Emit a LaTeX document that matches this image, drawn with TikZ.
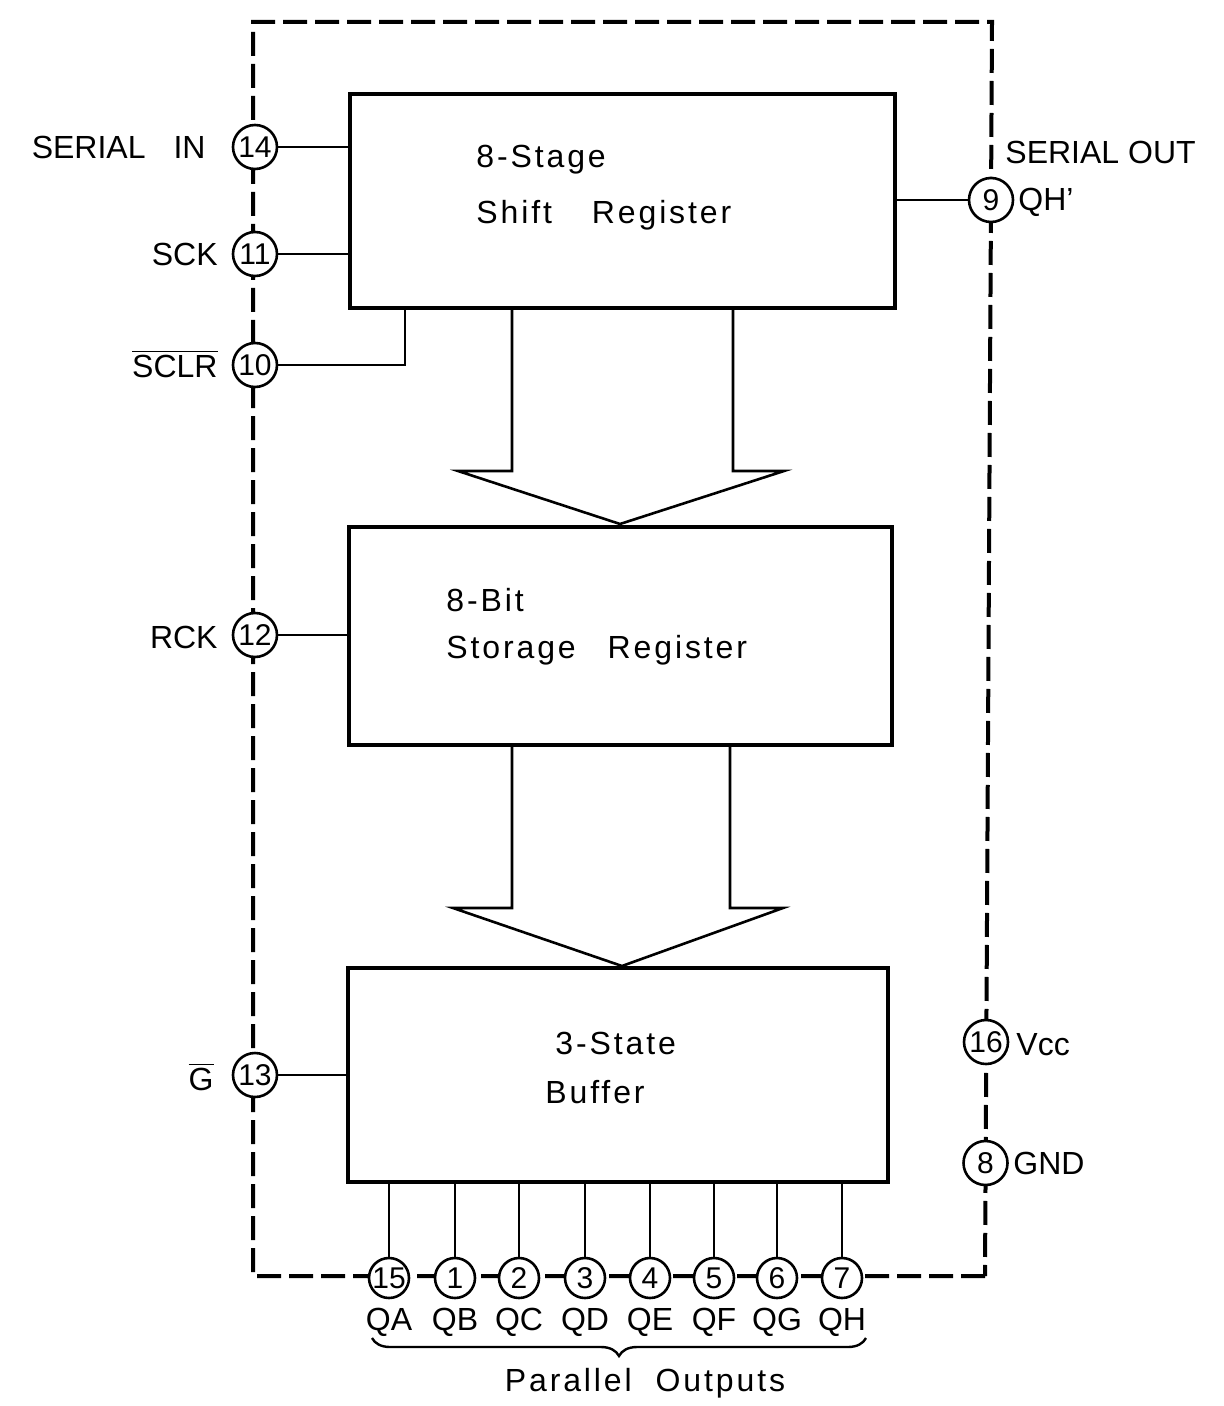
\documentclass[tikz,border=0pt]{standalone}
\usepackage{fontspec}
\setmainfont{Liberation Sans}
\newfontfamily\spacedfont[LetterSpace=9]{Liberation Sans}
\usetikzlibrary{decorations.pathreplacing,calc}
\begin{document}
\begin{tikzpicture}[x=0.5pt,y=-0.5pt,
  block/.style={draw,line width=2pt,fill=white,inner sep=0pt},
  pin/.style={draw,circle,line width=1.3pt,fill=white,minimum size=22pt,inner sep=0pt,font=\fontsize{15}{15}\selectfont},
  bpin/.style={pin,minimum size=20pt},
  wire/.style={line width=1.2pt},
  border/.style={line width=2pt,dash pattern=on 12pt off 4pt},
  lbl/.style={font=\fontsize{16}{16}\selectfont,inner sep=0pt},
  txt/.style={font=\spacedfont\fontsize{16}{16}\selectfont,inner sep=0pt,anchor=west},
  bigarrow/.style={line width=1.3pt,line join=miter}]
\useasboundingbox (0,0) rectangle (1223,1406);
% border
\draw[border] (985,1276) -- (253,1276) -- (253,22) -- (992,22) -- (985,1276);
% big arrows (drawn first, boxes on top)
\draw[bigarrow] (512,300) -- (512,471) -- (458,471) -- (620,524) -- (784,471) -- (733,471) -- (733,300);
\draw[bigarrow] (512,740) -- (512,908) -- (453,908) -- (622,966) -- (783,908) -- (730,908) -- (730,740);
% blocks
\node[block,minimum width=272.5pt,minimum height=107pt] (sr) at (622.5,201) {};
\node[block,minimum width=271.5pt,minimum height=109pt] (st) at (620.5,636) {};
\node[block,minimum width=270pt,minimum height=107pt] (buf) at (618,1075) {};
% texts in blocks
\node[txt] (t1) at (476,160) {8-Stage};
\node[txt] (t2) at (476,215) {Shift\hspace{20pt}Register};
\node[txt] (t3) at (446,600) {8-Bit};
\node[txt] (t4) at (446,650) {Storage\hspace{16pt}Register};
\node[txt] (t5) at (555,1043) {3-State};
\node[txt] (t6) at (545,1092) {Buffer};
% left pins
\node[pin] (p14) at (255,147) {14};
\node[pin] (p11) at (255,254) {11};
\node[pin] (p10) at (255,365) {10};
\node[pin] (p12) at (255,635) {12};
\node[pin] (p13) at (255,1075) {13};
\node[lbl,anchor=east] (l14) at (206,147) {SERIAL\hspace{14pt}IN};
\node[lbl,anchor=east] (l11) at (218,254) {SCK};
\node[lbl,anchor=east] (l10) at (218,364) {$\overline{\mbox{SCLR}}$};
\node[lbl,anchor=east] (l12) at (218,637) {RCK};
\node[lbl,anchor=east] (l13) at (214,1077) {$\overline{\mbox{G}}$};
% right pins
\node[pin] (p9) at (991,200) {9};
\node[pin] (p16) at (986,1042) {16};
\node[pin] (p8) at (985.5,1163) {8};
\node[lbl,anchor=west] (l9a) at (1005,152) {SERIAL OUT};
\node[lbl,anchor=west] (l9b) at (1018,202) {QH'};
\node[lbl,anchor=west] (l16) at (1016,1045) {Vcc};
\node[lbl,anchor=west] (l8) at (1013,1163) {GND};
% left wires
\draw[wire] (p14) -- (p14 -| sr.west);
\draw[wire] (p11) -- (p11 -| sr.west);
\coordinate (sclr) at (405,308);
\draw[wire] (p10) -| (sclr);
\draw[wire] (p12) -- (p12 -| st.west);
\draw[wire] (p13) -- (p13 -| buf.west);
\draw[wire] (p9) -- (p9 -| sr.east);
% bottom pins
\foreach \n/\x/\q in {15/389/QA,1/455/QB,2/519/QC,3/585/QD,4/650/QE,5/714/QF,6/777/QG,7/842/QH}{
  \node[bpin] (b\n) at (\x,1278) {\n};
  \draw[wire] (b\n) -- (b\n |- buf.south);
  \node[lbl] (q\n) at (\x,1322) {\q};
}
\draw[wire,decorate,decoration={brace,mirror,amplitude=9pt}] (372,1338) -- (866,1338);
\node[txt,anchor=center] (par) at (645,1383) {Parallel\hspace{12pt}Outputs};
\end{tikzpicture}
\end{document}
